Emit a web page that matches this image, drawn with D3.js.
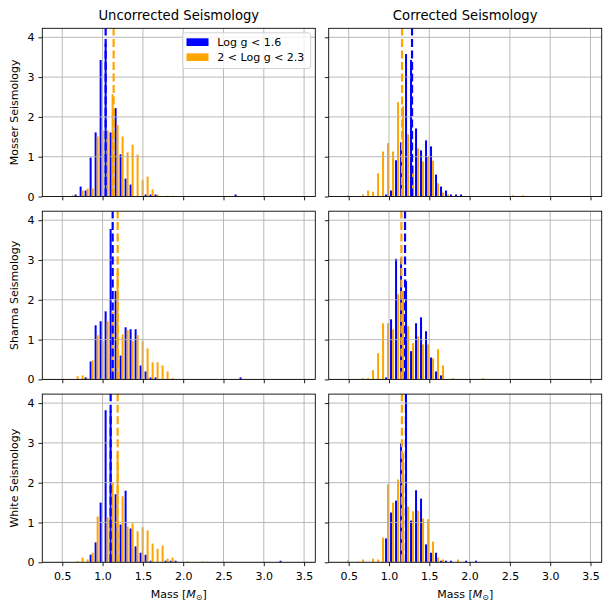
<!DOCTYPE html>
<html>
<head>
<meta charset="utf-8">
<script src="https://cdn.jsdelivr.net/npm/d3@7"></script>
<style>
body { margin: 0; background: #fff; }
text { font-family: "DejaVu Sans", sans-serif; fill: #000; }
</style>
</head>
<body>
<script>
// labels
var colTitles = ["Uncorrected Seismology", "Corrected Seismology"];
var rowTitles = ["Mosser Seismology", "Sharma Seismology", "White Seismology"];
var seriesNames = ["Log g < 1.6", "2 < Log g < 2.3"];
var xTicks = [0.5, 1.0, 1.5, 2.0, 2.5, 3.0, 3.5];
var yTicks = [0, 1, 2, 3, 4];

// histogram bins (left edge of first bin, bin width)
var binWidth = 0.062;
var binStartUncorr = 0.585;
var binStartCorr = 0.449;

// densities per bin, low log g (blue) and high log g (orange)
var mosserUncorrLow = [0,0.05,0.25,0.15,0.98,1.61,3.43,3.84,1.61,2.22,1.06,0.45,0.3,0,0,0.05,0.05,0.05,
  0,0,0,0,0,0,0,0,0,0,0,0,0,0,0,0.05];
var mosserUncorrHigh = [0.03,0,0.15,0.2,0.2,1.51,1.66,1.66,2.57,1.8,1.51,1.11,1.3,1.05,0.42,0.5,0.18,0.05,0,0.02,0.02];
var mosserCorrLow = [0,0,0,0,0,0,0,0,0.05,0.15,0.91,1.36,3.58,3.43,1.71,1.16,1.41,1.26,0.55,0.25,0.15,0.05,0.05,0.05];
var mosserCorrHigh = [0.03,0,0,0.05,0.15,0.12,0.58,1.13,1.34,1.13,2.37,2.27,1.56,0.78,1.21,0.88,1.0,0.9,0.33,0.1,0.05,
  0,0,0,0,0,0,0,0,0,0,0,0,0.03,0,0.03];
var sharmaUncorrLow = [0,0,0,0.05,0.45,1.36,1.46,1.71,3.78,2.22,0.6,1.31,1.26,1.26,0.35,0.2,0.05,0.05,
  0,0,0,0,0,0,0,0,0,0,0,0,0,0,0,0,0.05];
var sharmaUncorrHigh = [0,0.08,0.1,0.03,0.48,1.11,0.96,1.46,1.7,2.7,1.13,1.24,0.96,1.11,0.96,0.78,0.43,0.43,0.35,0.2,0.03];
var sharmaCorrLow = [0,0,0,0,0,0,0,0,0.05,1.51,3.03,3.05,2.47,0.71,1.41,1.56,1.21,0.55,0.2,0.1];
var sharmaCorrHigh = [0,0,0,0.03,0.03,0.23,0.66,1.41,1.41,1.26,2.14,2.22,1.34,0.91,1.08,0.88,0.88,0.53,0.76,0.35,0,0.03,
  0,0,0,0,0,0.03];
var whiteUncorrLow = [0,0,0,0,0.19,0.5,1.5,3.82,3.8,1.71,0.95,1.8,0.85,0.4,0.24,0.19,0.04,0,0,0.04,0.04,0.04,
  0,0,0,0,0,0,0,0,0,0,0,0,0,0,0,0,0,0,0,0,0.04];
var whiteUncorrHigh = [0,0.03,0.12,0.07,0.24,1.15,0,1.13,2.0,2.7,1.66,0.9,0.98,0.78,0.88,0.8,0.47,0.34,0.42,0.09,0.12,0.02,
  0,0.02,0,0,0.02,0.02];
var whiteCorrLow = [0,0,0,0,0,0,0,0,0.6,1.25,1.55,2.99,4.07,1.05,1.81,1.6,0.45,0.24,0.24,0.04,0.04,0.04,0,0,0.04,0,0.04];
var whiteCorrHigh = [0.05,0,0.02,0.07,0,0.09,0.07,0.62,1.96,1.5,2.08,2.74,1.4,1.28,1.3,1.1,1.08,0.52,0.12,0.07,0,0,0.07];

// medians (dashed lines) [row][col]
var lowMedians = [[1.038, 1.286], [1.125, 1.199], [1.10, 1.21]];
var highMedians = [[1.137, 1.162], [1.187, 1.154], [1.187, 1.16]];

var panelData = [
  [[mosserUncorrLow, mosserUncorrHigh], [mosserCorrLow, mosserCorrHigh]],
  [[sharmaUncorrLow, sharmaUncorrHigh], [sharmaCorrLow, sharmaCorrHigh]],
  [[whiteUncorrLow, whiteUncorrHigh], [whiteCorrLow, whiteCorrHigh]]
];
var binStarts = [binStartUncorr, binStartCorr];
var colors = ["#0000ff", "#ffa500"];

// layout
var colLeft = [42.3, 328.7], panelW = 273;
var rowTop = [28.3, 211.2, 394.1], panelH = 168.2;
var tickLen = 3.85;

var svg = d3.select("body").append("svg").attr("width", 611).attr("height", 611);

rowTop.forEach(function (top, r) {
  colLeft.forEach(function (left, c) {
    var x = d3.scaleLinear().domain([0.252, 3.639]).range([left, left + panelW]);
    var y = d3.scaleLinear().domain([0, 4.226]).range([top + panelH, top]);
    var g = svg.append("g");
    var clipId = "clip" + r + c;
    g.append("clipPath").attr("id", clipId).append("rect")
      .attr("x", left).attr("y", top).attr("width", panelW).attr("height", panelH);
    var plot = g.append("g").attr("clip-path", "url(#" + clipId + ")");

    // bars
    panelData[r][c].forEach(function (vals, s) {
      var bins = vals.map(function (v, k) { return {k: k, v: v}; })
        .filter(function (d) { return d.v > 0; });
      plot.selectAll("rect.s" + s)
        .data(bins)
        .enter().append("rect")
          .attr("class", "s" + s)
          .attr("x", function (d) { return x(binStarts[c] + (d.k + 0.1 + 0.4 * s) * binWidth); })
          .attr("width", function (d) {
            var x0 = binStarts[c] + (d.k + 0.1 + 0.4 * s) * binWidth;
            return x(x0 + 0.4 * binWidth) - x(x0);
          })
          .attr("y", function (d) { return y(d.v); })
          .attr("height", function (d) { return y(0) - y(d.v); })
          .attr("fill", colors[s]);
    });

    // grid (drawn above the bars)
    plot.selectAll("line.gx").data(xTicks).enter().append("line")
      .attr("class", "gx")
      .attr("x1", function (d) { return x(d); }).attr("x2", function (d) { return x(d); })
      .attr("y1", top).attr("y2", top + panelH)
      .attr("stroke", "#b0b0b0").attr("stroke-width", 0.88);
    plot.selectAll("line.gy").data(yTicks).enter().append("line")
      .attr("class", "gy")
      .attr("y1", function (d) { return y(d); }).attr("y2", function (d) { return y(d); })
      .attr("x1", left).attr("x2", left + panelW)
      .attr("stroke", "#b0b0b0").attr("stroke-width", 0.88);

    // medians
    [lowMedians[r][c], highMedians[r][c]].forEach(function (m, s) {
      plot.append("line")
        .attr("x1", x(m)).attr("x2", x(m))
        .attr("y1", top + panelH).attr("y2", top)
        .attr("stroke", colors[s]).attr("stroke-width", 2.2)
        .attr("stroke-dasharray", "8,3.5");
    });

    // axes
    var xAxis = d3.axisBottom(x).tickValues(xTicks).tickSize(tickLen).tickPadding(6.5)
      .tickFormat(r === 2 ? d3.format(".1f") : function () { return ""; });
    var gx = g.append("g").attr("transform", "translate(0," + (top + panelH) + ")").call(xAxis);
    var yAxis = d3.axisLeft(y).tickValues(yTicks).tickSize(tickLen).tickPadding(3.85)
      .tickFormat(c === 0 ? d3.format("d") : function () { return ""; });
    var gy = g.append("g").attr("transform", "translate(" + left + ",0)").call(yAxis);
    [gx, gy].forEach(function (a) {
      a.select(".domain").remove();
      a.selectAll(".tick line").attr("stroke", "#000").attr("stroke-width", 0.88);
      a.selectAll(".tick text").attr("font-size", 11).attr("font-family", "DejaVu Sans").attr("fill", "#000");
    });

    // spines
    g.append("rect")
      .attr("x", left).attr("y", top).attr("width", panelW).attr("height", panelH)
      .attr("fill", "none").attr("stroke", "#000").attr("stroke-width", 0.88);

    if (r === 0) {
      svg.append("text")
        .attr("x", left + panelW / 2).attr("y", 20)
        .attr("text-anchor", "middle").attr("font-size", 13.2)
        .text(colTitles[c]);
    }
    if (c === 0) {
      svg.append("text")
        .attr("transform", "translate(18," + (top + panelH / 2) + ") rotate(-90)")
        .attr("text-anchor", "middle").attr("font-size", 11)
        .text(rowTitles[r]);
    }
    if (r === 2) {
      var lab = svg.append("text")
        .attr("x", left + panelW / 2).attr("y", 598)
        .attr("text-anchor", "middle").attr("font-size", 11);
      lab.append("tspan").text("Mass [");
      lab.append("tspan").attr("font-style", "italic").text("M");
      lab.append("tspan").attr("font-size", 8).attr("dy", 2).text("\u2299");
      lab.append("tspan").attr("dy", -2).text("]");
    }
  });
});

// legend in first panel
var leg = svg.append("g");
leg.append("rect")
  .attr("x", 182.7).attr("y", 32.8).attr("width", 128).attr("height", 35.7)
  .attr("rx", 2.5).attr("fill", "#fff").attr("fill-opacity", 0.8)
  .attr("stroke", "#cccccc").attr("stroke-width", 0.88);
leg.selectAll("rect.key").data(seriesNames).enter().append("rect")
  .attr("class", "key")
  .attr("x", 186.5).attr("y", function (d, i) { return 38.3 + i * 15; })
  .attr("width", 22).attr("height", 7.7)
  .attr("fill", function (d, i) { return colors[i]; });
leg.selectAll("text").data(seriesNames).enter().append("text")
  .attr("x", 217.3).attr("y", function (d, i) { return 46.2 + i * 15; })
  .attr("font-size", 11)
  .text(function (d) { return d; });
</script>
</body>
</html>
